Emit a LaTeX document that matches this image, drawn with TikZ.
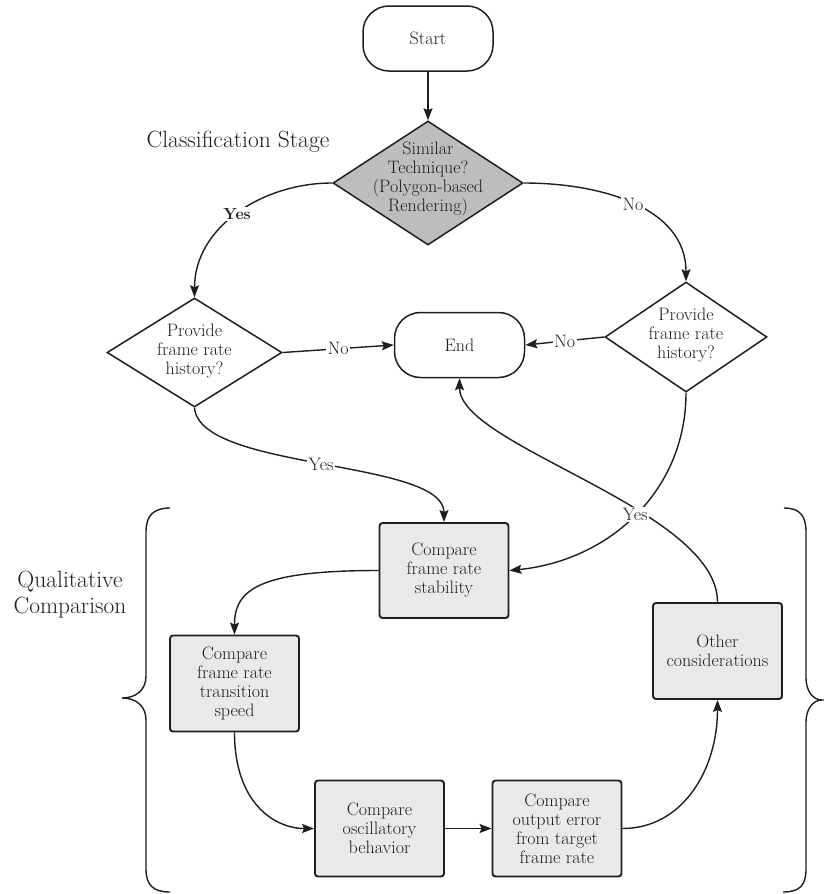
\documentclass[tikz,border=0pt]{standalone}
\usetikzlibrary{shapes.geometric,arrows.meta}
\definecolor{ink}{HTML}{1E1E1E}
\definecolor{dgray}{HTML}{BDBDBD}
\definecolor{lgray}{HTML}{E9E9EB}
\begin{document}
\begin{tikzpicture}[x=1pt,y=-1pt,
  every node/.style={text=ink, font=\fontsize{18}{19}\selectfont, align=center},
  term/.style={draw=ink, line width=1.5pt, rounded corners=26pt, minimum width=130pt, minimum height=65pt, inner sep=0pt},
  dec/.style={diamond, draw=ink, line width=1.5pt, inner sep=0pt},
  proc/.style={draw=ink, line width=1.9pt, fill=lgray, rounded corners=3pt, minimum width=129pt, minimum height=96pt, inner sep=0pt},
  conn/.style={draw=ink, line width=1.4pt, -{Stealth[length=12pt,width=9pt,inset=2pt]}},
  lab/.style={fill=white, inner sep=1.5pt},
  bracepath/.style={draw=ink, line width=1.4pt},
  big/.style={font=\fontsize{23.5}{26}\selectfont}
]
\useasboundingbox (0,0) rectangle (824,894);

% nodes
\node[term] (start) at (428,38.5) {Start};
\node[dec, fill=dgray, minimum width=190pt, minimum height=124pt,
  label={[yshift=4pt]center:{Similar\\Technique?\\(Polygon-based\\Rendering)}}] (dtop) at (428,183) {};
\node[big] (cls) at (238,142) {Classification Stage};
\node[dec, fill=white, minimum width=175pt, minimum height=109pt,
  label={[yshift=1.5pt]center:{Provide\\frame rate\\history?}}] (ldia) at (194.5,352.5) {};
\node[dec, fill=white, minimum width=162pt, minimum height=110pt,
  label={[yshift=2pt]center:{Provide\\frame rate\\history?}}] (rdia) at (686,337) {};
\node[term] (end) at (459.5,345) {End};

\node[big] (qual) at (70,595) {Qualitative\\Comparison};
\node[proc, minimum height=95pt] (stab) at (444,570.5) {Compare\\frame rate\\stability};
\node[proc] (trans) at (234.5,683.5) {Compare\\frame rate\\transition\\speed};
\node[proc] (osc) at (379.5,828.5) {Compare\\oscillatory\\behavior};
\node[proc] (outp) at (557,828.5) {Compare\\output error\\from target\\frame rate};
\node[proc] (other) at (717.5,651) {Other\\considerations};

% connectors
\draw[conn] (start.south) -- (dtop.north);
\draw[conn] (dtop.west) .. controls +(-70,0) and +(0,-70) .. (ldia.north)
  node[lab, pos=0.5, font=\bfseries\fontsize{16}{18}\selectfont] {Yes};
\draw[conn] (dtop.east) .. controls +(75,0) and +(0,-75) .. (rdia.north)
  node[lab, pos=0.5] {No};
\draw[conn] (ldia.east) -- (end.west) node[lab, pos=0.5] {No};
\draw[conn] (rdia.west) -- (end.east) node[lab, pos=0.5] {No};
\draw[conn] (other.north) .. controls +(0,-93) and +(0,68) .. (end.south);
\draw[conn] (rdia.south) .. controls +(0,98) and +(100,-10) .. (stab.east)
  node[lab, pos=0.5] {Yes};
\draw[conn] (ldia.south) .. controls +(5,63) and +(0,-63) .. (stab.north)
  node[lab, pos=0.5] {Yes};
\draw[conn] (stab.west) .. controls +(-120,0) and +(0,-45) .. (trans.north);
\draw[conn] (trans.south) .. controls +(0,70) and +(-40,0) .. (osc.west);
\draw[conn] (osc.east) -- (outp.west);
\draw[conn] (outp.east) .. controls +(60,0) and +(0,70) .. (other.south);

% braces
\draw[bracepath] (170,508) .. controls (153,508) and (146,516) .. (146,532)
  -- (146,676) .. controls (146,690) and (136,698) .. (122,698)
  .. controls (136,698) and (146,706) .. (146,720)
  -- (146,869) .. controls (146,885) and (153,892) .. (170,892);
\draw[bracepath] (784,508) .. controls (800,508) and (806,516) .. (806,532)
  -- (806,678) .. controls (806,691) and (813,700) .. (822,700)
  .. controls (813,700) and (806,709) .. (806,722)
  -- (806,869) .. controls (806,885) and (800,892) .. (783,892);
\end{tikzpicture}
\end{document}
